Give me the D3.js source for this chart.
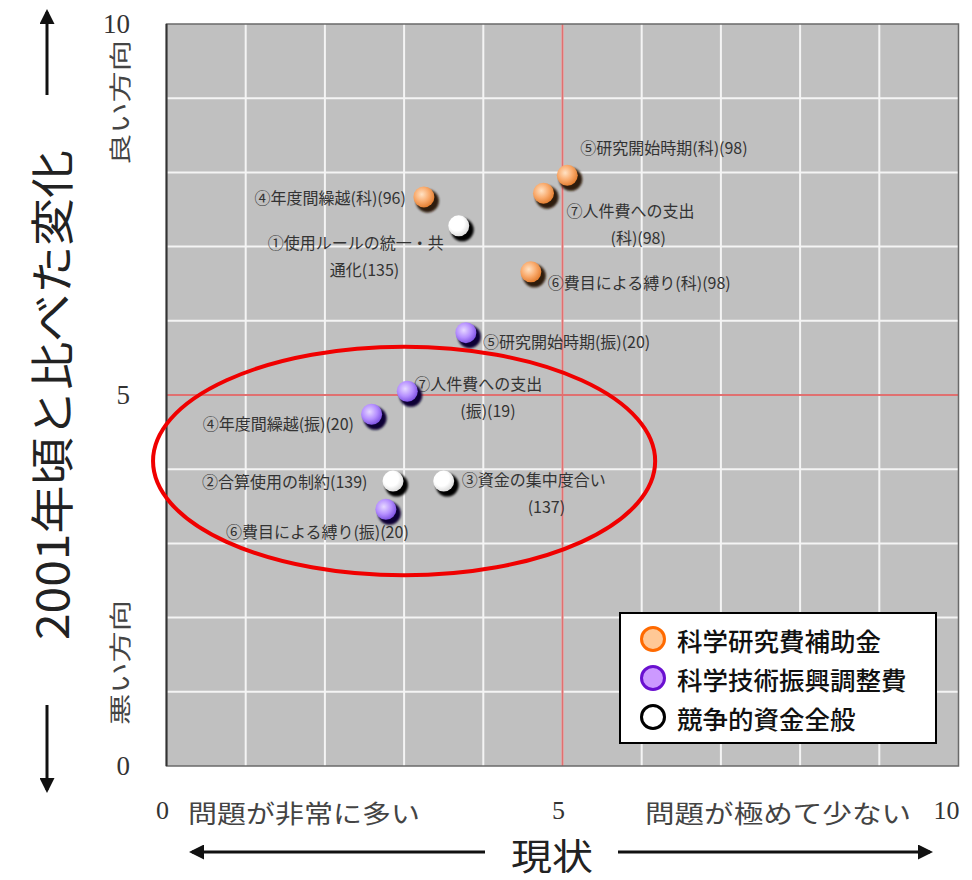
<html>
<head>
<meta charset="utf-8">
<script src="https://d3js.org/d3.v7.min.js"></script>
<style>
  body { margin: 0; background: #fff; }
  text { font-family: "Noto Sans CJK JP", sans-serif; }
  .num { font-family: "Liberation Serif", "DejaVu Serif", serif; }
</style>
</head>
<body>
<div id="chart"></div>
<script>
// series / legend
var seriesNames = ["科学研究費補助金", "科学技術振興調整費", "競争的資金全般"];
var seriesKeys = ["ka", "shin", "all"];

// points: series, x (現状), y (変化), label lines
var pointSeries = ["ka", "ka", "ka", "ka", "shin", "shin", "shin", "shin", "all", "all", "all"];
var pointX = [3.25, 5.06, 4.76, 4.60, 3.78, 3.04, 2.59, 2.77, 3.69, 2.86, 3.50];
var pointY = [7.67, 7.96, 7.72, 6.66, 5.84, 5.05, 4.74, 3.46, 7.28, 3.84, 3.84];
var pointLabels = [
  ["④年度間繰越(科)(96)"],
  ["⑤研究開始時期(科)(98)"],
  ["⑦人件費への支出", "(科)(98)"],
  ["⑥費目による縛り(科)(98)"],
  ["⑤研究開始時期(振)(20)"],
  ["⑦人件費への支出", "(振)(19)"],
  ["④年度間繰越(振)(20)"],
  ["⑥費目による縛り(振)(20)"],
  ["①使用ルールの統一・共", "通化(135)"],
  ["②合算使用の制約(139)"],
  ["③資金の集中度合い", "(137)"]
];

var xTicks = [0, 5, 10];
var yTicks = [0, 5, 10];
var xTitle = "現状";
var yTitle = "2001年頃と比べた変化";
var xLowText = "問題が非常に多い", xHighText = "問題が極めて少ない";
var yHighText = "良い方向", yLowText = "悪い方向";

// label placement relative to point (layout only)
var labelLayout = [
  {anchor: "end", dx: -18, dy: 0},
  {anchor: "start", dx: 13, dy: -28},
  {anchor: "start", dx: 23, dy: 17, dx2: 67},
  {anchor: "start", dx: 17, dy: 10},
  {anchor: "start", dx: 17, dy: 8},
  {anchor: "start", dx: 7, dy: -8, dx2: 53},
  {anchor: "start", dx: -169, dy: 9},
  {anchor: "start", dx: -160, dy: 22},
  {anchor: "start", dx: -191, dy: 16, dx2: -129},
  {anchor: "start", dx: -191, dy: 0},
  {anchor: "start", dx: 18, dy: -2, dx2: 84}
];

var W = 972, H = 880;
var plot = {left: 166.5, top: 24, right: 958.5, bottom: 766};

var svg = d3.select("#chart").append("svg")
  .attr("width", W).attr("height", H);

var x = d3.scaleLinear().domain([0, 10]).range([plot.left, plot.right]);
var y = d3.scaleLinear().domain([0, 10]).range([plot.bottom, plot.top]);

var defs = svg.append("defs");
var ballColors = {
  ka:   {c0: "#ffe2c4", c1: "#f9aa6c", c2: "#e27c2e", shadow: "#2e1a08"},
  shin: {c0: "#e6d8ff", c1: "#b690ff", c2: "#7c50e2", shadow: "#100634"},
  all:  {c0: "#ffffff", c1: "#ffffff", c2: "#dadada", shadow: "#000"}
};
seriesKeys.forEach(function(k) {
  var g = defs.append("radialGradient").attr("id", "g-" + k)
    .attr("cx", "40%").attr("cy", "38%").attr("r", "65%");
  g.append("stop").attr("offset", "0%").attr("stop-color", ballColors[k].c0);
  g.append("stop").attr("offset", "55%").attr("stop-color", ballColors[k].c1);
  g.append("stop").attr("offset", "100%").attr("stop-color", ballColors[k].c2);
});
defs.append("filter").attr("id", "blur").append("feGaussianBlur").attr("stdDeviation", 0.9);

// background + grid
svg.append("rect").attr("x", plot.left).attr("y", plot.top)
  .attr("width", plot.right - plot.left).attr("height", plot.bottom - plot.top)
  .attr("fill", "#c0c0c0");

var grid = d3.range(1, 10);
svg.append("g").selectAll("line.v").data(grid).enter().append("line")
  .attr("x1", function(d) { return x(d); }).attr("x2", function(d) { return x(d); })
  .attr("y1", plot.top).attr("y2", plot.bottom)
  .attr("stroke", "#f4f4f4").attr("stroke-width", 2);
svg.append("g").selectAll("line.h").data(grid).enter().append("line")
  .attr("y1", function(d) { return y(d); }).attr("y2", function(d) { return y(d); })
  .attr("x1", plot.left).attr("x2", plot.right)
  .attr("stroke", "#f4f4f4").attr("stroke-width", 2);

// red mid lines
svg.append("line").attr("x1", x(5)).attr("x2", x(5)).attr("y1", plot.top).attr("y2", plot.bottom)
  .attr("stroke", "#e07070").attr("stroke-width", 2);
svg.append("line").attr("y1", y(5)).attr("y2", y(5)).attr("x1", plot.left).attr("x2", plot.right)
  .attr("stroke", "#e07070").attr("stroke-width", 2);

svg.append("rect").attr("x", plot.left).attr("y", plot.top)
  .attr("width", plot.right - plot.left).attr("height", plot.bottom - plot.top)
  .attr("fill", "none").attr("stroke", "#6a6a6a").attr("stroke-width", 1.5);
svg.append("line").attr("x1", plot.left).attr("x2", plot.left).attr("y1", plot.top).attr("y2", plot.bottom)
  .attr("stroke", "#333").attr("stroke-width", 2);

// points
var pts = pointX.map(function(v, i) {
  return {x: v, y: pointY[i], s: pointSeries[i], label: pointLabels[i], lay: labelLayout[i]};
});

var labels = svg.append("g");
pts.forEach(function(p) {
  var px = x(p.x), py = y(p.y);
  labels.append("text").attr("x", px + p.lay.dx).attr("y", py + p.lay.dy)
    .attr("text-anchor", p.lay.anchor).attr("dominant-baseline", "central")
    .attr("font-size", 16).attr("fill", "#333").text(p.label[0]);
  if (p.label[1]) {
    labels.append("text").attr("x", px + p.lay.dx2).attr("y", py + p.lay.dy + 27)
      .attr("dominant-baseline", "central")
      .attr("font-size", 16).attr("fill", "#333").text(p.label[1]);
  }
});

var balls = svg.append("g").selectAll("g").data(pts).enter().append("g")
  .attr("transform", function(d) { return "translate(" + x(d.x) + "," + y(d.y) + ")"; });
balls.append("circle").attr("cx", 3.5).attr("cy", 4).attr("r", 11.5)
  .attr("fill", function(d) { return ballColors[d.s].shadow; }).attr("filter", "url(#blur)");
balls.append("circle").attr("r", 10.5)
  .attr("fill", function(d) { return "url(#g-" + d.s + ")"; });

// red ellipse annotation
svg.append("ellipse").attr("cx", x(3.0)).attr("cy", y(4.11))
  .attr("rx", x(3.17) - x(0)).attr("ry", y(0) - y(1.54))
  .attr("fill", "none").attr("stroke", "#f00000").attr("stroke-width", 4);

// legend
var legendStroke = {ka: "#ff6a00", shin: "#6a10d0", all: "#000"};
var legendFill = {ka: "#ffc896", shin: "#cc99ff", all: "#fff"};
var lg = svg.append("g");
lg.append("rect").attr("x", 620).attr("y", 613).attr("width", 316).attr("height", 130)
  .attr("fill", "#fff").attr("stroke", "#000").attr("stroke-width", 2);
seriesKeys.forEach(function(k, i) {
  var cy = 639 + i * 39;
  lg.append("circle").attr("cx", 653).attr("cy", cy).attr("r", 11.5)
    .attr("fill", legendFill[k]).attr("stroke", legendStroke[k]).attr("stroke-width", 3);
  lg.append("text").attr("x", 677).attr("y", cy).attr("dominant-baseline", "central")
    .attr("font-size", 25.5).attr("font-weight", 500).attr("fill", "#111").text(seriesNames[i]);
});

// axis tick labels
svg.append("g").selectAll("text").data(yTicks).enter().append("text").attr("class", "num")
  .attr("x", 130).attr("y", function(d) { return y(d); })
  .attr("text-anchor", "end").attr("dominant-baseline", "central")
  .attr("font-size", 27).attr("fill", "#333").text(function(d) { return d; });
svg.append("g").selectAll("text").data(xTicks).enter().append("text").attr("class", "num")
  .attr("x", function(d) { return x(d) + (d === 10 ? -12 : -4); }).attr("y", 810)
  .attr("text-anchor", "middle").attr("dominant-baseline", "central")
  .attr("font-size", 26).attr("fill", "#333").text(function(d) { return d; });

// x axis captions
svg.append("text").attr("x", 188).attr("y", 812).attr("dominant-baseline", "central")
  .attr("font-size", 25).attr("fill", "#444").attr("lengthAdjust", "spacingAndGlyphs")
  .attr("textLength", 232).text(xLowText);
svg.append("text").attr("x", 645).attr("y", 812).attr("dominant-baseline", "central")
  .attr("font-size", 25).attr("fill", "#444").attr("lengthAdjust", "spacingAndGlyphs")
  .attr("textLength", 266).text(xHighText);
svg.append("text").attr("x", 552).attr("y", 854).attr("text-anchor", "middle")
  .attr("dominant-baseline", "central").attr("font-size", 36).attr("fill", "#222")
  .attr("lengthAdjust", "spacingAndGlyphs").attr("textLength", 82).text(xTitle);

// arrows
defs.append("marker").attr("id", "ah").attr("viewBox", "0 0 10 10").attr("refX", 8).attr("refY", 5)
  .attr("markerWidth", 5).attr("markerHeight", 5).attr("orient", "auto-start-reverse")
  .append("path").attr("d", "M0,0 L10,5 L0,10 z").attr("fill", "#111");
function arrow(x1, y1, x2, y2) {
  svg.append("line").attr("x1", x1).attr("y1", y1).attr("x2", x2).attr("y2", y2)
    .attr("stroke", "#111").attr("stroke-width", 3).attr("marker-end", "url(#ah)");
}
arrow(485, 852, 192, 852);
arrow(618, 852, 930, 852);
arrow(47, 95, 47, 12);
arrow(47, 705, 47, 790);

// y captions (rotated)
svg.append("text").attr("transform", "translate(50,395) rotate(-90)")
  .attr("text-anchor", "middle").attr("dominant-baseline", "central")
  .attr("font-size", 44).attr("fill", "#222").attr("lengthAdjust", "spacingAndGlyphs")
  .attr("textLength", 490).text(yTitle);
svg.append("text").attr("transform", "translate(118,165) rotate(-90)")
  .attr("dominant-baseline", "central").attr("font-size", 22).attr("fill", "#444")
  .attr("lengthAdjust", "spacingAndGlyphs").attr("textLength", 125).text(yHighText);
svg.append("text").attr("transform", "translate(118,725) rotate(-90)")
  .attr("dominant-baseline", "central").attr("font-size", 22).attr("fill", "#444")
  .attr("lengthAdjust", "spacingAndGlyphs").attr("textLength", 125).text(yLowText);
</script>
</body>
</html>
